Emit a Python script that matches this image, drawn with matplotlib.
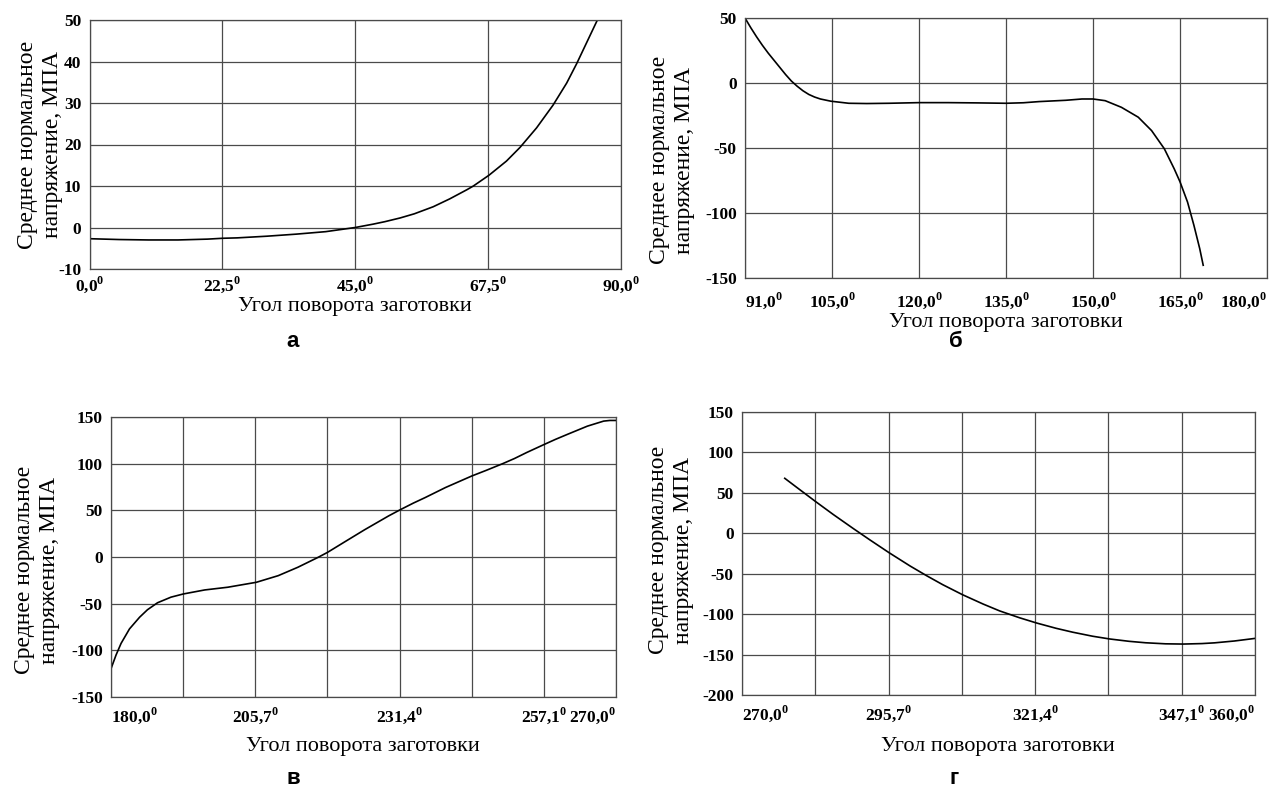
import matplotlib
matplotlib.use("Agg")
import matplotlib.pyplot as plt
import numpy as np

plt.rcParams['font.family'] = ['Liberation Serif', 'DejaVu Serif']
plt.rcParams['axes.unicode_minus'] = False
plt.rcParams['mathtext.fontset'] = 'custom'
plt.rcParams['mathtext.rm'] = 'Liberation Serif'
plt.rcParams['mathtext.bf'] = 'Liberation Serif:bold'

# panel а: 0..90
angle_a = [0, 5, 10, 15, 20, 22.5, 25, 30, 35, 40, 45, 48, 50, 52.6, 55, 58.2, 61, 63.9, 65,
           67.65, 70.6, 72.9, 75.7, 78.5, 80.8, 82.5, 84.2, 86.0]
stress_a = [-2.7, -2.9, -3.0, -3.0, -2.8, -2.6, -2.5, -2.1, -1.6, -1.0, 0.0, 0.8, 1.4, 2.3, 3.3,
            5.0, 6.9, 9.1, 10.0, 12.6, 16.0, 19.3, 24.0, 29.5, 34.8, 39.5, 44.6, 50.0]

# panel б: 90..180
angle_b = [90, 91, 92, 93, 94, 95, 96, 97, 98, 99, 100, 101, 102, 103, 104.8, 107.9, 111, 114.8,
           120, 125, 130, 135, 138, 140.7, 145.3, 148.1, 150, 152.1, 154.9, 157.8, 160.1, 162.3,
           164.0, 165, 166.3, 167.4, 168.4, 169.0]
stress_b = [50, 42.5, 35.5, 29, 23, 17.5, 12, 6.5, 1.5, -2.5, -6, -8.8, -10.8, -12.3, -14, -15.6,
            -15.8, -15.6, -15.1, -15.1, -15.3, -15.6, -15.2, -14.3, -13.3, -12.3, -12.3, -13.6,
            -18.7, -26.3, -36.6, -50.6, -66, -76, -91.6, -109.5, -127.4, -140.2]

# panel в: 180..270
angle_c = [180, 180.9, 181.8, 183.3, 185.1, 186.5, 188.3, 190.7, 192.9, 196.7, 200.8, 205.9,
           209.8, 213.3, 216.9, 218.6, 221.7, 225.2, 229.5, 231.5, 233.9, 236, 239.6, 244.3,
           246.9, 249.8, 251.9, 254.1, 257.1, 259.2, 261.3, 264.9, 266.4, 267.8, 268.9, 270]
stress_c = [-119.7, -105, -92.5, -77, -64.5, -56.5, -49, -43, -39.6, -35.3, -32.4, -27.1,
            -20, -11, -0.4, 5, 16.4, 29.2, 44.1, 50.5, 57.8, 63.7, 74.4, 86.8,
            92.9, 100, 105.5, 112, 120.3, 126, 131.3, 140.2, 143, 145.6, 146.3, 146.3]

# panel г: 270..360
angle_d = [277.5, 279.6, 282.9, 286.0, 289.6, 292.4, 295.8, 299.5, 302.4, 305.2, 308.7, 312.3,
           315.2, 318.7, 321.7, 325.1, 328.0, 331.5, 334.5, 337.9, 340.8, 344.3, 347.4, 350.7,
           352.9, 356.4, 360]
stress_d = [68, 56.8, 39.3, 23.3, 5.5, -8, -24, -40.5, -52.5, -63.5, -76, -87.5,
            -96, -104.5, -111, -117.5, -122.3, -127.3, -130.7, -133.6, -135.4, -136.7, -137,
            -136.4, -135.5, -133.2, -130]

deg = r'$^\mathbf{0}$'
ticks_a = [0, 22.5, 45, 67.5, 90]
labels_a = [s + deg for s in ['0,0', '22,5', '45,0', '67,5', '90,0']]
ticks_b = [90, 105, 120, 135, 150, 165, 180]
labels_b = [s + deg for s in ['91,0', '105,0', '120,0', '135,0', '150,0', '165,0', '180,0']]
labels_c = [s + deg if s else '' for s in ['180,0', '', '205,7', '', '231,4', '', '257,1', '270,0']]
labels_d = [s + deg if s else '' for s in ['270,0', '', '295,7', '', '321,4', '', '347,1', '360,0']]

ylabel = 'Среднее нормальное\nнапряжение, МПА'
xlabel = 'Угол поворота заготовки'

W, H = 1270, 796
fig = plt.figure(figsize=(12.7, 7.96), dpi=100)


def px_axes(left, top, right, bottom):
    return fig.add_axes([left / W, 1 - bottom / H, (right - left) / W, (bottom - top) / H])


def style(ax, x, y, xlim, ylim, xticks, xlabels, yticks, edge_align=False):
    ax.plot(x, y, color='black', linewidth=1.2)
    ax.set_xlim(xlim)
    ax.set_ylim(ylim)
    ax.set_xticks(xticks)
    ax.set_xticklabels(xlabels)
    ax.set_yticks(yticks)
    ax.grid(True, color='#4a4a4a', linewidth=0.9)
    ax.set_axisbelow(True)
    for s in ax.spines.values():
        s.set_color('#4a4a4a')
        s.set_linewidth(0.9)
    ax.tick_params(length=0, labelsize=12.5, pad=6)
    for t in ax.get_xticklabels() + ax.get_yticklabels():
        t.set_fontweight('bold')
    if edge_align:
        xt = ax.get_xticklabels()
        xt[0].set_horizontalalignment('left')
        xt[-1].set_horizontalalignment('right')


# а
ax1 = px_axes(89.5, 20, 621, 269)
style(ax1, angle_a, stress_a, (0, 90), (-10, 50), ticks_a, labels_a, np.arange(-10, 51, 10))
ax1.tick_params(axis='x', pad=4)

# б
ax2 = px_axes(745, 18, 1267, 278)
style(ax2, angle_b, stress_b, (90, 180), (-150, 50), ticks_b, labels_b, [-150, -100, -50, 0, 50],
      edge_align=True)
ax2.tick_params(axis='x', pad=9)

# в
ax3 = px_axes(111, 417, 616, 697)
ticks_7 = 180 + np.arange(8) * 90 / 7
style(ax3, angle_c, stress_c, (180, 270), (-150, 150), ticks_7, labels_c, np.arange(-150, 151, 50),
      edge_align=True)

# г
ax4 = px_axes(742, 412, 1255, 695)
style(ax4, angle_d, stress_d, (270, 360), (-200, 150), ticks_7 + 90, labels_d,
      np.arange(-200, 151, 50), edge_align=True)

# axis titles
for xc, yc in [(355, 306), (1006, 323), (363, 747), (998, 747)]:
    fig.text(xc / W, 1 - yc / H, xlabel, ha='center', va='center', fontsize=16)
for xc, yc in [(40, 145), (672, 160), (37, 570), (671, 550)]:
    fig.text(xc / W, 1 - yc / H, ylabel, ha='center', va='center', fontsize=17,
             rotation=90, linespacing=1.2)

# panel letters
for letter, xc, yc in [('а', 293, 342), ('б', 956, 342), ('в', 293, 778), ('г', 954, 778)]:
    fig.text(xc / W, 1 - yc / H, letter, ha='center', va='center', fontsize=16,
             fontweight='bold', family=['Liberation Sans', 'DejaVu Sans'])

fig.savefig('out.png', dpi=100)
